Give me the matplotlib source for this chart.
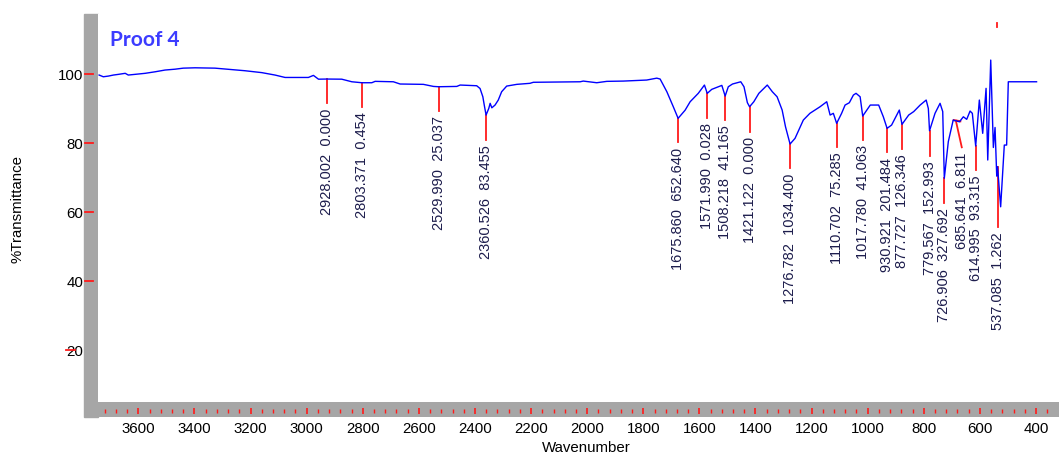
import matplotlib
matplotlib.use("Agg")
import matplotlib.pyplot as plt
import numpy as np
from matplotlib.patches import Rectangle
from matplotlib.transforms import blended_transform_factory

plt.rcParams['font.family'] = ['Liberation Sans', 'DejaVu Sans']

# ---------------- data ----------------
spec_wn = [3740, 3725, 3707, 3689, 3671, 3647, 3636, 3612, 3576, 3540, 3505, 3469,
           3440, 3398, 3327, 3279, 3220, 3160, 3113, 3077, 2994, 2976, 2958, 2928.0,
           2875, 2839, 2803.4, 2768, 2756, 2691, 2667, 2584, 2548, 2530.0, 2465, 2453,
           2394, 2382, 2372, 2367, 2360.5, 2351, 2346, 2340, 2328.5, 2317, 2305, 2287,
           2251, 2204, 2192, 2025, 2014, 1966, 1930, 1871, 1788, 1752, 1740, 1716,
           1693, 1675.9, 1651, 1633, 1604, 1582, 1572.0, 1556, 1520, 1508.2, 1497,
           1482, 1452.5, 1441, 1429, 1421.1, 1406, 1388, 1358, 1340, 1323, 1305, 1293,
           1276.8, 1259, 1229.5, 1206, 1170, 1146, 1134, 1122.5, 1110.7, 1093, 1080.6,
           1065.5, 1051, 1041.6, 1027, 1017.8, 990.8, 960.9, 944.3, 930.9, 914.8,
           887.3, 877.7, 853.9, 836, 813, 791.5, 783.8, 779.6, 760, 742, 732.5, 726.9,
           712.6, 695.2, 685.6, 672.8, 659, 647, 635, 627, 615.0, 602, 590, 578, 572,
           561.4, 552, 546, 540, 537.1, 526, 513, 504.7, 498.7, 398]
spec_T = [99.8, 99.3, 99.5, 99.8, 100.0, 100.3, 99.8, 100.0, 100.3, 100.75, 101.25, 101.5,
          101.8, 101.9, 101.8, 101.45, 101.05, 100.5, 99.8, 99.1, 99.1, 99.7, 98.6, 98.64,
          98.6, 97.85, 97.57, 97.57, 97.97, 97.85, 97.2, 97.1, 96.5, 96.41, 96.5, 96.9,
          96.7, 95.9, 93.5, 91.1, 88.2, 90.1, 91.6, 90.3, 91.1, 92.55, 94.96, 96.6,
          97.1, 97.4, 97.7, 97.85, 98.05, 97.57, 97.97, 98.05, 98.35, 98.9, 98.64, 94.96,
          90.6, 87.25, 89.6, 92.06, 94.5, 96.9, 94.49, 95.65, 96.8, 93.71, 96.4,
          97.2, 97.85, 96.4, 91.8, 90.61, 92.06, 94.5, 96.9, 94.96, 93.5, 89.65, 84.8,
          79.8, 81.45, 86.75, 88.7, 90.6, 92.06, 88.2, 88.7, 85.8, 88.7, 91.1,
          91.77, 94.0, 94.5, 93.5, 87.91, 91.1, 91.1, 87.7, 84.35, 85.3,
          89.65, 85.51, 88.2, 89.2, 91.1, 92.55, 90.1, 83.65, 88.7, 91.6, 89.2, 69.86,
          80.5, 86.75, 86.55, 86.26, 87.7, 86.96, 89.36, 88.7, 79.22, 92.55, 82.9, 95.94, 75.16,
          104.14, 78.8, 84.6, 70.5, 73.22, 61.6, 79.5, 79.5, 97.85, 97.85]

peak_wn = [2928.002, 2803.371, 2529.990, 2360.526, 1675.860, 1571.990, 1508.218,
           1421.122, 1276.782, 1110.702, 1017.780, 930.921, 877.727, 779.567,
           726.906, 685.641, 614.995, 537.085]
peak_val = [0.000, 0.454, 25.037, 83.455, 652.640, 0.028, 41.165, 0.000, 1034.400,
            75.285, 41.063, 201.484, 126.346, 152.993, 327.692, 6.811, 93.315, 1.262]
peak_T = [98.64, 97.57, 96.41, 88.20, 87.25, 94.49, 93.71, 90.61, 79.80, 85.80,
          87.91, 84.35, 85.51, 83.65, 69.86, 86.55, 79.22, 73.22]
marker_len = [7.0, 7.0, 7.0, 7.2, 7.0, 7.0, 7.0, 7.2, 7.0, 7.0, 6.8, 7.0, 7.2, 7.4,
              7.2, 7.7, 7.0, 17.4]
label_wn = [2928.002, 2803.371, 2529.990, 2360.526, 1675.860, 1571.990, 1508.218,
            1421.122, 1276.782, 1110.702, 1017.780, 930.921, 877.727, 779.567,
            726.906, 664.6, 614.995, 537.085]

x_ticks = [3600, 3400, 3200, 3000, 2800, 2600, 2400, 2200, 2000, 1800, 1600, 1400,
           1200, 1000, 800, 600, 400]
y_ticks = [100, 80, 60, 40, 20]

# ---------------- layout ----------------
W, H = 1059, 454
fig = plt.figure(figsize=(W / 100, H / 100), dpi=100)


def fx(px):
    return px / W


def fy(py):
    return 1 - py / H


GRAY = '#a6a6a6'
RED = '#ff1a1a'

ax = fig.add_axes([fx(98), fy(402), fx(1059) - fx(98), (402 - 14) / H])
ax.set_xlim(3744, 318)
ax.set_ylim(5.0, 117.5)
for s in ax.spines.values():
    s.set_visible(False)

ax.plot(spec_wn, spec_T, color='#0000ff', lw=1.0, zorder=3)

# left gray bar
fig.patches.append(Rectangle((fx(84), fy(417)), 14 / W, 403 / H,
                             transform=fig.transFigure, color=GRAY, zorder=-1))

# bottom gray band with ticks
band = fig.add_axes([fx(98), fy(417), fx(1059) - fx(98), 15 / H])
band.set_facecolor(GRAY)
band.set_xlim(ax.get_xlim())
band.set_ylim(0, 1)
for s in band.spines.values():
    s.set_visible(False)
band.set_yticks([])
band.set_xticks(x_ticks)
band.set_xticklabels([str(v) for v in x_ticks])
band.tick_params(axis='x', length=0, pad=3.4, labelsize=10.8)
minor = [v for v in np.arange(3720, 330, -40) if v % 200 != 0]
band.vlines(minor, 0.27, 0.52, color=RED, lw=1.0)
band.vlines(x_ticks, 0.18, 0.62, color=RED, lw=1.2)

# y ticks
ax.set_xticks([])
ax.set_yticks(y_ticks)
ax.set_yticklabels([str(v) for v in y_ticks])
ax.tick_params(axis='y', length=0, pad=10.6, labelsize=10.8)
trans = blended_transform_factory(ax.transAxes, ax.transData)
for v in y_ticks:
    x0, x1 = (-0.0333, -0.0239) if v == 20 else (-0.0135, -0.0052)
    ax.plot([x0, x1], [v, v], transform=trans, color=RED, lw=1.3,
            clip_on=False, zorder=5)

# peak markers and labels
for wn, val, t, L, lwn in zip(peak_wn, peak_val, peak_T, marker_len, label_wn):
    bottom = t - L
    ax.plot([wn, lwn], [t, bottom], color=RED, lw=1.3, zorder=2)
    ax.text(lwn, bottom - 1.5, f"{wn:.3f}  {val:.3f}", rotation=90,
            ha='center', va='top', fontsize=10.5, color='#1c1c4c')
ax.plot([693, 670], [86.7, 86.4], color=RED, lw=1.5, zorder=2)
ax.plot([540, 540], [113.8, 115.0], color=RED, lw=1.3, clip_on=False)

# title and axis labels
fig.text(fx(110), fy(40), 'Proof 4', fontsize=15, fontweight='bold',
         color='#3c3cff', family=['Lato', 'DejaVu Sans'], ha='left', va='center')
fig.text(fx(586), fy(447.5), 'Wavenumber', fontsize=10.8, ha='center', va='center')
fig.text(fx(18), fy(209), '%Transmittance', fontsize=10.8, rotation=90,
         ha='center', va='center')

fig.savefig('out.png', dpi=100)
